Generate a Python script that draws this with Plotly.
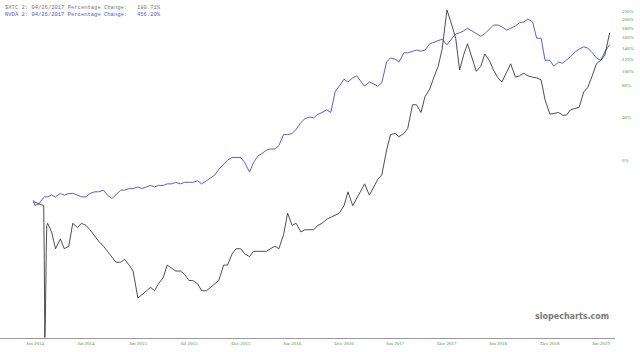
import plotly.graph_objects as go

dates = [
    "2013-12-26",
    "2014-01-01", "2014-01-15", "2014-02-01", "2014-02-03", "2014-02-05", "2014-02-07", "2014-02-10", "2014-02-12",
    "2014-02-15", "2014-03-01", "2014-03-15", "2014-04-01", "2014-04-15", "2014-05-01", "2014-05-15",
    "2014-06-01", "2014-06-15", "2014-07-01", "2014-07-15", "2014-08-01", "2014-08-15", "2014-09-01", "2014-09-15",
    "2014-10-01", "2014-10-15", "2014-11-01", "2014-11-15", "2014-12-01", "2014-12-15",
    "2015-01-01", "2015-01-15", "2015-02-01", "2015-02-15", "2015-03-01", "2015-03-15", "2015-04-01", "2015-04-15",
    "2015-05-01", "2015-05-15", "2015-06-01", "2015-06-15", "2015-07-01", "2015-07-15", "2015-08-01", "2015-08-15",
    "2015-09-01", "2015-09-15", "2015-10-01", "2015-10-15", "2015-11-01", "2015-11-15", "2015-12-01", "2015-12-15",
    "2016-01-01", "2016-01-15", "2016-02-01", "2016-02-15", "2016-03-01", "2016-03-15", "2016-04-01", "2016-04-15",
    "2016-05-01", "2016-05-15", "2016-06-01", "2016-06-15", "2016-07-01", "2016-07-15", "2016-08-01", "2016-08-15",
    "2016-09-01", "2016-09-15", "2016-10-01", "2016-10-15", "2016-11-01", "2016-11-15", "2016-12-01", "2016-12-15",
    "2017-01-01", "2017-01-15", "2017-02-01", "2017-02-15", "2017-03-01", "2017-03-15", "2017-04-01", "2017-04-15",
    "2017-05-01", "2017-05-15", "2017-06-01", "2017-06-15", "2017-07-01", "2017-07-15", "2017-08-01", "2017-08-15",
    "2017-09-01", "2017-09-15", "2017-10-01", "2017-10-15", "2017-11-01", "2017-11-15", "2017-12-01", "2017-12-15",
    "2018-01-01", "2018-01-15", "2018-02-01", "2018-02-15", "2018-03-01", "2018-03-15", "2018-04-01", "2018-04-15",
    "2018-05-01", "2018-05-15", "2018-06-01", "2018-06-15", "2018-07-01", "2018-07-15", "2018-08-01", "2018-08-15",
    "2018-09-01", "2018-09-15", "2018-10-01", "2018-10-15", "2018-11-01", "2018-11-15", "2018-12-01", "2018-12-15",
    "2019-01-01", "2019-01-15", "2019-02-01", "2019-02-15", "2019-03-01", "2019-03-15", "2019-04-01", "2019-04-15",
    "2019-05-01", "2019-05-15", "2019-06-01", "2019-06-15", "2019-07-01", "2019-07-15", "2019-08-01",
]

# percentage change, black series (NVDA)
nvda_pct = [
    -28,
    -28, -29, -30, -54, -75, -71, -51, -40,
    -39, -43, -50, -46, -50, -49, -39,
    -41, -39, -40, -42, -45, -47, -49, -51,
    -53, -55, -55, -54, -56, -58,
    -66, -65, -64, -63, -64, -62, -60, -56,
    -57, -58, -58, -59, -61, -61, -62, -64,
    -64, -63, -62, -61, -56, -56, -52, -50,
    -50, -52, -53, -51, -51, -51, -51, -50,
    -49, -50, -44, -34, -40, -39, -43, -42,
    -42, -42, -40, -39, -37, -36, -35, -34,
    -30, -22, -30, -26, -21, -17, -24, -19,
    -14, -11, 8, 22, 23, 20, 23, 28,
    54, 54, 45, 64, 74, 90, 108, 138,
    223, 194, 159, 102, 127, 148, 122, 100,
    108, 129, 117, 102, 90, 84, 99, 112,
    91, 93, 97, 93, 91, 90, 87, 60,
    43, 44, 45, 42, 42, 48, 50, 51,
    70, 76, 94, 112, 118, 127, 170,
]

# percentage change, blue series
xtc_pct = [
    -27,
    -30, -29, -25, -25, -25, -25, -25, -25,
    -25, -24, -25, -23, -24, -23, -23,
    -24, -25, -25, -23, -22, -22, -21, -24,
    -26, -24, -21, -21, -20, -20,
    -19, -20, -19, -18, -19, -18, -18, -17,
    -17, -16, -17, -16, -16, -16, -15, -17,
    -15, -13, -11, -7, -3, 0, 2, 2,
    2, -2, -9, -2, 3, 5, 8, 9,
    9, 12, 22, 22, 23, 27, 34, 38,
    40, 39, 43, 45, 48, 45, 71, 78,
    88, 84, 90, 93, 85, 78, 84, 81,
    78, 83, 115, 122, 120, 115, 131, 131,
    133, 136, 134, 136, 148, 151, 155, 157,
    146, 155, 168, 170, 174, 180, 174, 170,
    163, 168, 178, 187, 187, 183, 176, 180,
    185, 192, 194, 201, 194, 159, 159, 118,
    118, 108, 115, 113, 118, 124, 133, 138,
    142, 140, 131, 122, 118, 133, 146,
]

y_tick_pct = [220, 200, 180, 160, 140, 120, 100, 80, 40, 0]
x_tick_dates = ["2014-01-01", "2014-07-01", "2015-01-01", "2015-07-01", "2016-01-01", "2016-07-01",
                "2017-01-01", "2017-07-01", "2018-01-01", "2018-07-01", "2019-01-01", "2019-07-01"]
x_tick_text = ["Jan 2014", "Jul 2014", "Jan 2015", "Jul 2015", "Dec 2015", "Jun 2016",
               "Dec 2016", "Jun 2017", "Dec 2017", "Jun 2018", "Dec 2018", "Jan 2019"]

header_lines = [
    ("$XTC 2: 04/26/2017 Percentage Change:   180.71%", "#777777"),
    ("NVDA 2: 04/26/2017 Percentage Change:   456.20%", "#5555cc"),
]

fig = go.Figure()
fig.add_trace(go.Scatter(x=dates, y=[1 + v / 100 for v in xtc_pct], mode="lines",
                         line=dict(color="#4b4bc8", width=0.9), showlegend=False))
fig.add_trace(go.Scatter(x=dates, y=[1 + v / 100 for v in nvda_pct], mode="lines",
                         line=dict(color="#3a3a3a", width=0.9), showlegend=False))

fig.update_layout(
    width=640, height=352,
    margin=dict(l=0, r=25, t=0, b=14),
    paper_bgcolor="white", plot_bgcolor="white",
    xaxis=dict(
        type="date", range=["2013-08-30", "2019-08-20"],
        tickvals=x_tick_dates, ticktext=x_tick_text,
        showgrid=False, zeroline=False,
        showline=True, linecolor="#9a9a9a", linewidth=1,
        ticks="", tickfont=dict(family="Liberation Serif", size=5, color="#3a9a3a"),
    ),
    yaxis=dict(
        type="log", side="right", range=[-0.6039, 0.5429],
        tickvals=[1 + v / 100 for v in y_tick_pct],
        ticktext=[f"{v}%" for v in y_tick_pct],
        showgrid=False, zeroline=False, showline=False, ticks="",
        ticklabelstandoff=6,
        tickfont=dict(family="Liberation Serif", size=5, color="#3a9a3a"),
    ),
)

for i, (txt, col) in enumerate(header_lines):
    fig.add_annotation(text=txt, xref="paper", yref="paper", x=0.005, y=1 - (2 + 7 * i) / 338,
                       xanchor="left", yanchor="top", showarrow=False,
                       font=dict(family="Liberation Mono", size=5.5, color=col))

fig.add_annotation(text="<b>slopecharts.com</b>", xref="paper", yref="paper",
                   x=0.994, y=0.045, xanchor="right", yanchor="bottom", showarrow=False,
                   font=dict(family="DejaVu Sans", size=8, color="#7a7a7a"))

fig.write_html("out.html")
